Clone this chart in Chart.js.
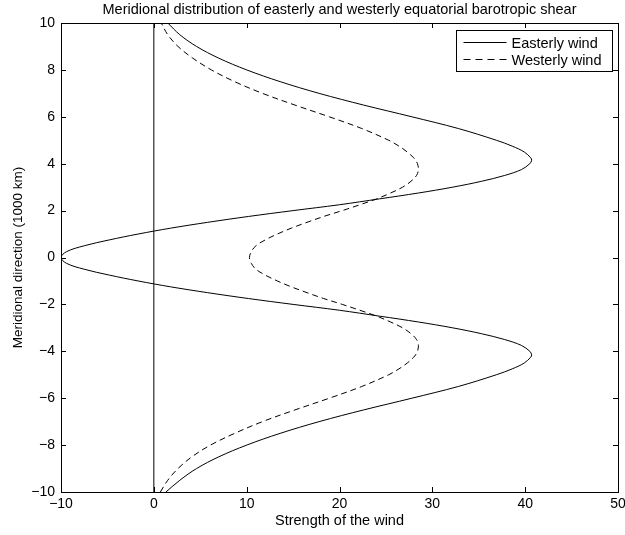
<!DOCTYPE html>
<html>
<head>
<meta charset="utf-8">
<script src="https://cdn.jsdelivr.net/npm/chart.js@4/dist/chart.umd.min.js"></script>
<style>
  html, body { margin: 0; padding: 0; background: #fff; }
  #wrap { width: 625px; height: 535px; }
</style>
</head>
<body>
<div id="wrap"><canvas id="chart"></canvas></div>
<script>
// meridional positions (1000 km) and wind strength
const meridional = [
  -10, -9.5, -9, -8.5, -8, -7.5, -7, -6.5, -6, -5.5, -5, -4.75, -4.5, -4.25, -4.15, -4, -3.75,
  -3.5, -3.25, -3, -2.75, -2.5, -2.25, -2, -1.75, -1.5, -1.25, -1, -0.75, -0.5, -0.25,
  0, 0.25, 0.5, 0.75, 1, 1.25, 1.5, 1.75, 2, 2.25, 2.5, 2.75, 3, 3.25, 3.5, 3.75, 4, 4.15,
  4.25, 4.5, 4.75, 5, 5.5, 6, 6.5, 7, 7.5, 8, 8.5, 9, 9.5, 10
];
const easterly = [
  1.3, 2.8, 4.6, 7.0, 10.0, 13.6, 17.8, 22.6, 27.8, 32.8, 36.9, 38.6, 39.9, 40.6, 40.7, 40.5, 39.6,
  37.8, 35.3, 32.2, 28.5, 24.3, 20.0, 15.0, 10.2, 5.8, 1.8, -1.7, -4.8, -7.5, -9.4,
  -10, -9.4, -7.5, -4.8, -1.7, 1.8, 5.8, 10.2, 15.0, 20.0, 24.3, 28.5, 32.2, 35.3, 37.8, 39.6, 40.5, 40.7,
  40.6, 39.9, 38.6, 36.9, 32.8, 27.8, 22.6, 17.8, 13.6, 10.0, 7.0, 4.6, 2.8, 1.5
];
const westerly = [
  0.7, 1.5, 2.6, 4.1, 6.1, 8.7, 11.7, 15.2, 18.9, 22.4, 25.3, 26.4, 27.3, 28.0, 28.2, 28.4, 28.5,
  28.3, 27.7, 26.8, 25.5, 24.0, 22.2, 20.3, 18.3, 16.5, 14.8, 13.3, 12.0, 11.0, 10.5,
  10.3, 10.5, 11.0, 12.0, 13.3, 14.8, 16.5, 18.3, 20.3, 22.2, 24.0, 25.5, 26.8, 27.7, 28.3, 28.5, 28.4, 28.2,
  28.0, 27.3, 26.4, 25.3, 22.4, 18.9, 15.2, 11.7, 8.7, 6.2, 4.2, 2.6, 1.5, 0.8
];
const xTicks = [-10, 0, 10, 20, 30, 40, 50];
const yTicks = [-10, -8, -6, -4, -2, 0, 2, 4, 6, 8, 10];
const seriesNames = ['Easterly wind', 'Westerly wind'];
const chartTitle = 'Meridional distribution of easterly and westerly equatorial barotropic shear';

const FONT = "'Liberation Sans', Arial, Helvetica, sans-serif";
const minus = v => String(v).replace('-', '\u2212');

// MATLAB style box with inward tick marks, title over the axes and the legend box
const boxTicks = {
  id: 'boxTicks',
  afterDatasetsDraw(chart) {
    const { ctx, chartArea: a, scales } = chart;
    ctx.save();
    ctx.strokeStyle = '#000';
    ctx.lineWidth = 1;
    ctx.beginPath();
    xTicks.forEach(v => {
      const px = Math.round(scales.x.getPixelForValue(v)) + 0.5;
      ctx.moveTo(px, a.bottom); ctx.lineTo(px, a.bottom - 5);
      ctx.moveTo(px, a.top); ctx.lineTo(px, a.top + 5);
    });
    yTicks.forEach(v => {
      const py = Math.round(scales.y.getPixelForValue(v)) + 0.5;
      ctx.moveTo(a.left, py); ctx.lineTo(a.left + 5, py);
      ctx.moveTo(a.right, py); ctx.lineTo(a.right - 5, py);
    });
    ctx.stroke();
    ctx.strokeRect(Math.round(a.left) + 0.5, Math.round(a.top) + 0.5,
      Math.round(a.right - a.left), Math.round(a.bottom - a.top));
    ctx.restore();
  },
  afterDraw(chart) {
    const { ctx, chartArea: a } = chart;
    ctx.save();
    ctx.fillStyle = '#000';
    ctx.font = '14.5px ' + FONT;
    ctx.textAlign = 'center';
    ctx.textBaseline = 'middle';
    ctx.fillText(chartTitle, (a.left + a.right) / 2, 10);

    const w = 156, h = 41;
    const x0 = Math.round(a.right) - 6 - w + 0.5, y0 = Math.round(a.top) + 7 + 0.5;
    ctx.fillStyle = '#fff';
    ctx.fillRect(x0, y0, w, h);
    ctx.strokeStyle = '#000';
    ctx.lineWidth = 1;
    ctx.strokeRect(x0, y0, w, h);
    ctx.font = '14.5px ' + FONT;
    ctx.fillStyle = '#000';
    ctx.textAlign = 'left';
    seriesNames.forEach((name, i) => {
      const y = y0 + 12 + i * 17;
      ctx.setLineDash(i === 1 ? [7, 5] : []);
      ctx.beginPath();
      ctx.moveTo(x0 + 7, y);
      ctx.lineTo(x0 + 50, y);
      ctx.stroke();
      ctx.fillText(name, x0 + 55, y + 1);
    });
    ctx.restore();
  }
};

const toPoints = values => values.map((v, i) => ({ x: v, y: meridional[i] }));

new Chart(document.getElementById('chart'), {
  type: 'scatter',
  data: {
    datasets: [
      {
        label: seriesNames[0],
        data: toPoints(easterly),
        showLine: true,
        borderColor: '#000',
        borderWidth: 1,
        pointRadius: 0,
        tension: 0.35
      },
      {
        label: seriesNames[1],
        data: toPoints(westerly),
        showLine: true,
        borderColor: '#000',
        borderWidth: 1,
        borderDash: [6, 4],
        pointRadius: 0,
        tension: 0.35
      },
      {
        label: 'zero',
        data: [{ x: 0, y: -10 }, { x: 0, y: 10 }],
        showLine: true,
        borderColor: '#000',
        borderWidth: 1,
        pointRadius: 0
      }
    ]
  },
  options: {
    responsive: true,
    maintainAspectRatio: false,
    animation: false,
    layout: { padding: { left: 0, right: 0, top: 23, bottom: 0 } },
    plugins: {
      legend: { display: false },
      tooltip: { enabled: false },
      title: { display: false }
    },
    scales: {
      x: {
        type: 'linear',
        min: -10,
        max: 50,
        afterBuildTicks: scale => { scale.ticks = xTicks.map(v => ({ value: v })); },
        afterFit: scale => { scale.height = 43; scale.paddingRight = 7; },
        grid: { display: false, drawTicks: false },
        border: { display: false },
        ticks: {
          color: '#000',
          padding: 4,
          maxRotation: 0,
          font: { family: FONT, size: 14 },
          callback: v => minus(v)
        },
        title: {
          display: true,
          text: 'Strength of the wind',
          color: '#000',
          font: { family: FONT, size: 14.5 },
          padding: { top: 0, bottom: 5 }
        }
      },
      y: {
        type: 'linear',
        min: -10,
        max: 10,
        afterBuildTicks: scale => { scale.ticks = yTicks.map(v => ({ value: v })); },
        afterFit: scale => { scale.width = 61; },
        grid: { display: false, drawTicks: false },
        border: { display: false },
        ticks: {
          color: '#000',
          padding: 6,
          font: { family: FONT, size: 14 },
          callback: v => minus(v)
        },
        title: {
          display: true,
          text: 'Meridional direction (1000 km)',
          color: '#000',
          font: { family: FONT, size: 13.5 },
          padding: { top: 10, bottom: 0 }
        }
      }
    }
  },
  plugins: [boxTicks]
});
</script>
</body>
</html>
